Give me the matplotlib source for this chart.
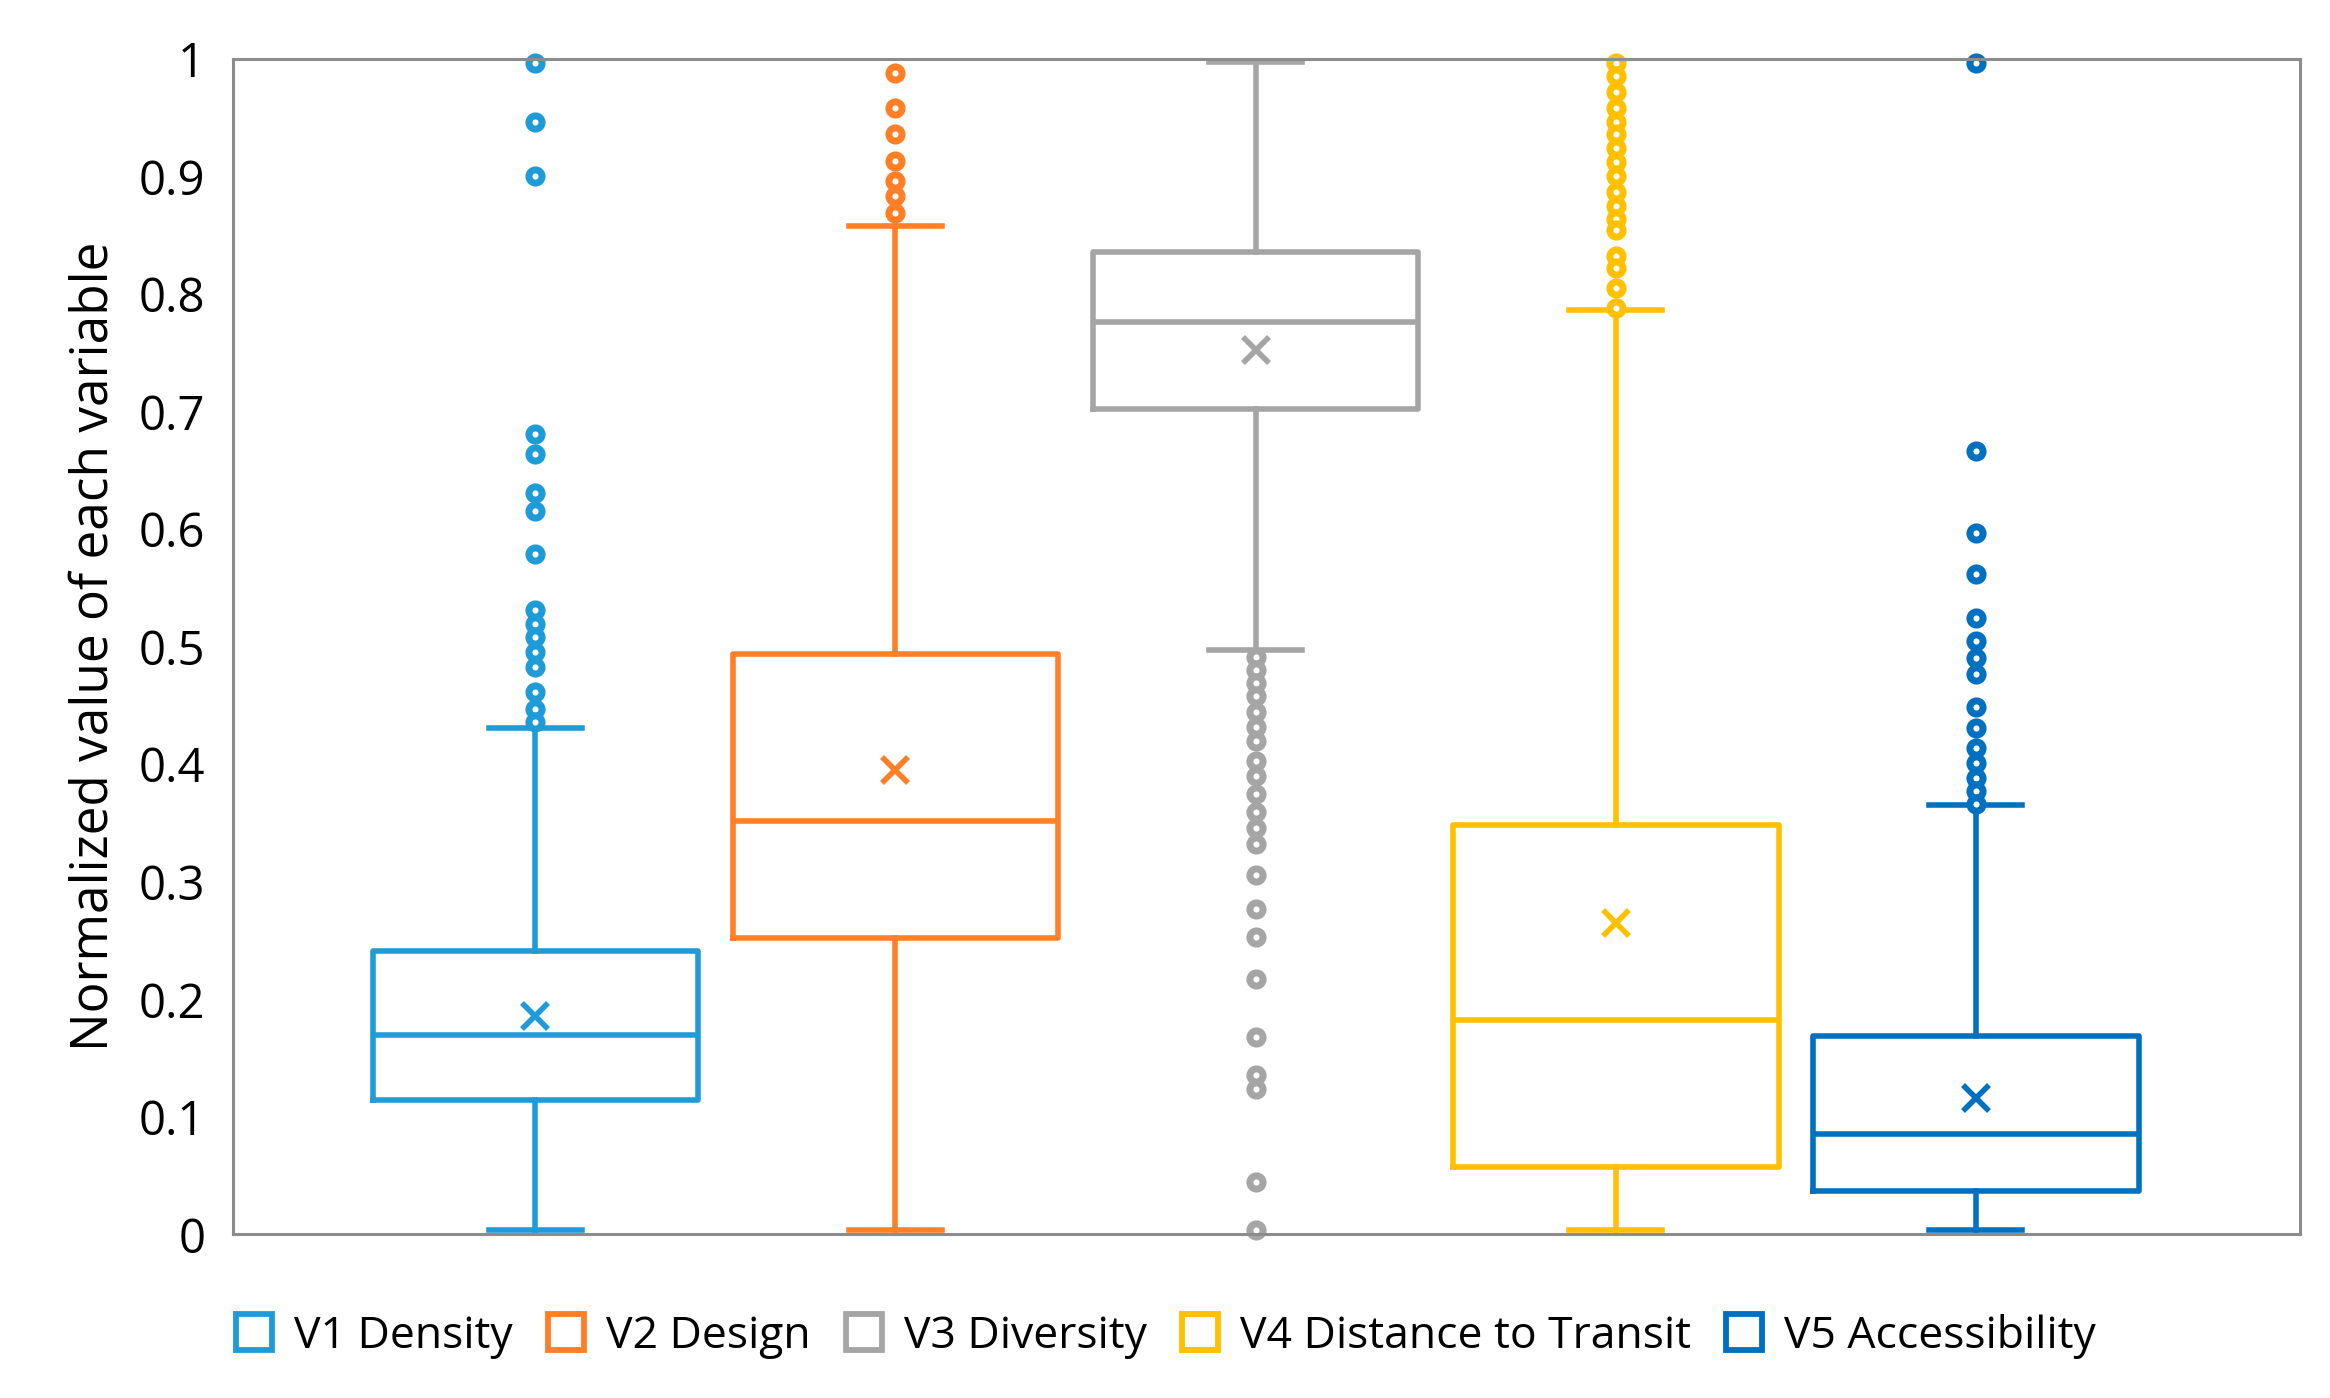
import numpy as np
import matplotlib
matplotlib.use('Agg')
from matplotlib import pyplot as plt
from matplotlib.lines import Line2D

plt.rcParams['font.family'] = ['Open Sans', 'DejaVu Sans']

names = ['V1 Density', 'V2 Design', 'V3 Diversity', 'V4 Distance to Transit', 'V5 Accessibility']
colors = ['#1F9BD7', '#FF7F27', '#A5A5A5', '#FFC000', '#0070C0']

whisLow = [0.004, 0.004, 0.497, 0.004, 0.004]
q1 = [0.114, 0.252, 0.702, 0.057, 0.037]
median = [0.170, 0.352, 0.776, 0.182, 0.085]
q3 = [0.241, 0.494, 0.836, 0.348, 0.169]
whisHigh = [0.431, 0.858, 0.997, 0.786, 0.365]
means = [0.186, 0.395, 0.752, 0.265, 0.116]

fliersV1 = [0.996, 0.946, 0.900, 0.681, 0.664, 0.631, 0.615, 0.579, 0.531, 0.519,
            0.508, 0.495, 0.483, 0.461, 0.447, 0.436]
fliersV2 = [0.988, 0.958, 0.936, 0.913, 0.896, 0.883, 0.869]
fliersV3 = [0.491, 0.480, 0.469, 0.458, 0.444, 0.432, 0.420, 0.403, 0.390, 0.375,
            0.359, 0.346, 0.332, 0.306, 0.277, 0.253, 0.217, 0.168, 0.136, 0.124,
            0.045, 0.004]
fliersV4 = [0.996, 0.985, 0.972, 0.958, 0.946, 0.936, 0.924, 0.912, 0.900, 0.887,
            0.875, 0.864, 0.854, 0.832, 0.822, 0.805, 0.788]
fliersV5 = [0.996, 0.666, 0.597, 0.562, 0.524, 0.505, 0.490, 0.477, 0.449, 0.431,
            0.414, 0.401, 0.388, 0.377, 0.366]
fliers = [fliersV1, fliersV2, fliersV3, fliersV4, fliersV5]

yTicks = [0, 0.1, 0.2, 0.3, 0.4, 0.5, 0.6, 0.7, 0.8, 0.9, 1]
yTickLabels = ['0', '0.1', '0.2', '0.3', '0.4', '0.5', '0.6', '0.7', '0.8', '0.9', '1']

fig = plt.figure(figsize=(23.3, 13.98), dpi=100)
ax = fig.add_axes([0.100, 0.117, 0.887, 0.841])

lw = 4.0
for i in range(len(names)):
    stats = [{'whislo': whisLow[i], 'q1': q1[i], 'med': median[i], 'q3': q3[i],
              'whishi': whisHigh[i], 'mean': means[i], 'fliers': fliers[i]}]
    c = colors[i]
    ax.bxp(stats, positions=[i + 1], widths=0.905, capwidths=0.26,
           showmeans=True, patch_artist=False,
           boxprops=dict(color=c, linewidth=lw),
           medianprops=dict(color=c, linewidth=lw),
           whiskerprops=dict(color=c, linewidth=lw),
           capprops=dict(color=c, linewidth=lw),
           meanprops=dict(marker='x', markeredgecolor=c, markersize=19, markeredgewidth=4),
           flierprops=dict(marker='o', markerfacecolor='white', markeredgecolor=c,
                           markersize=9.5, markeredgewidth=5, clip_on=False))

ax.set_xlim(0.16, 5.9)
ax.set_ylim(0, 1)
ax.set_xticks([])
ax.set_yticks(yTicks)
ax.set_yticklabels(yTickLabels, fontsize=34)
ax.tick_params(axis='y', length=0, pad=20)
ax.set_ylabel('Normalized value of each variable', fontsize=37, labelpad=14)
for s in ax.spines.values():
    s.set_color('#8C8C8C')
    s.set_linewidth(2.2)

handles = [Line2D([], [], linestyle='none', marker='s', markersize=26,
                  markerfacecolor='white', markeredgecolor=c, markeredgewidth=4.2)
           for c in colors]
fig.legend(handles, names, loc='center', bbox_to_anchor=(0.5, 0.044), ncol=5,
           frameon=False, fontsize=32, handlelength=0.9, handletextpad=0.45,
           columnspacing=0.75)

fig.savefig('out.png', dpi=100)
